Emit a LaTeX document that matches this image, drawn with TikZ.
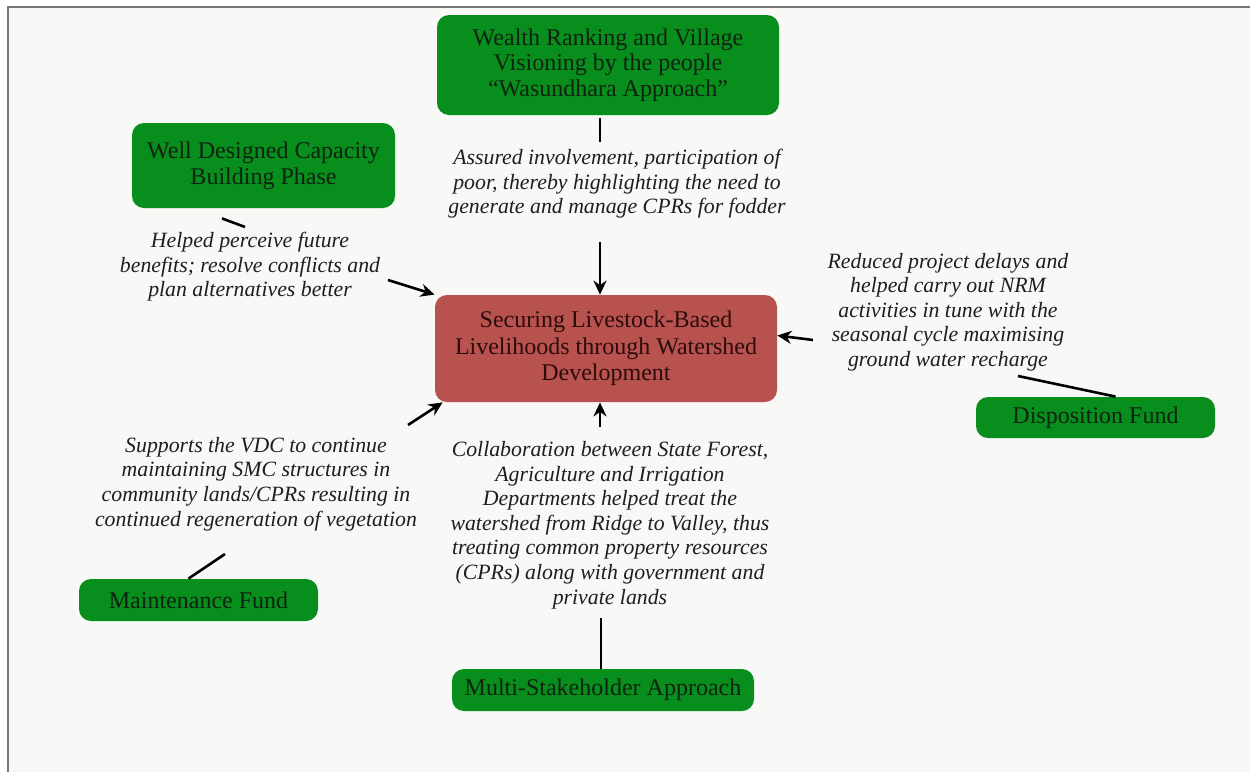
\documentclass[tikz,border=0pt]{standalone}
\usepackage{fontspec}
\setmainfont{Liberation Serif}
\usetikzlibrary{arrows.meta}
\definecolor{gfill}{RGB}{8,142,28}
\definecolor{rfill}{RGB}{183,82,78}
\definecolor{bgc}{RGB}{248,248,246}
\definecolor{gtext}{RGB}{16,34,16}
\definecolor{rtext}{RGB}{44,12,12}
\definecolor{framec}{RGB}{120,120,120}
\definecolor{ltext}{RGB}{30,30,30}
\tikzset{
  gbox/.style={fill=gfill, rounded corners=6pt, text=gtext, align=center, inner sep=0pt,
    font=\fontsize{12}{12.8}\selectfont},
  rbox/.style={fill=rfill, rounded corners=6pt, text=rtext, align=center, inner sep=0pt,
    font=\fontsize{12}{13.2}\selectfont},
  lbl/.style={align=center, text=ltext, inner sep=0pt,
    font=\itshape\fontsize{10.9}{12.3}\selectfont},
  conn/.style={line width=1.3pt, black},
  arr/.style={conn, -{Stealth[length=7pt,width=6.5pt]}}
}
\begin{document}
\begin{tikzpicture}[x=0.5pt,y=-0.5pt]
\useasboundingbox (0,0) rectangle (1250,772);
\fill[white] (0,0) rectangle (1250,772);
\fill[bgc] (8,7) rectangle (1250,772);
\draw[framec, line width=1pt] (8,772) -- (8,7) -- (1250,7);

% boxes
\node[gbox, minimum width=171pt, minimum height=50pt] (top) at (608,65)
  {Wealth Ranking and Village\\Visioning by the people\\``Wasundhara Approach''};
\node[gbox, minimum width=131.5pt, minimum height=42.5pt] (well) at (263.5,165.5)
  {Well Designed Capacity\\Building Phase};
\node[rbox, minimum width=171pt, minimum height=53.5pt] (ctr) at (606,348.5)
  {Securing Livestock-Based\\Livelihoods through Watershed\\Development};
\node[gbox, minimum width=119.5pt, minimum height=20.5pt] (disp) at (1095.5,417.5)
  {Disposition Fund};
\node[gbox, minimum width=119.5pt, minimum height=21pt] (maint) at (198.5,600)
  {Maintenance Fund};
\node[gbox, minimum width=151pt, minimum height=21pt] (multi) at (603,690)
  {Multi-Stakeholder Approach};

% labels
\node[lbl] (lA) at (617,184)
  {Assured involvement, participation of\\poor, thereby highlighting the need to\\generate and manage CPRs for fodder};
\node[lbl] (lW) at (250,267)
  {Helped perceive future\\benefits; resolve conflicts and\\plan alternatives better};
\node[lbl] (lR) at (948,312)
  {Reduced project delays and\\helped carry out NRM\\activities in tune with the\\seasonal cycle maximising\\ground water recharge};
\node[lbl] (lM) at (256,484)
  {Supports the VDC to continue\\maintaining SMC structures in\\community lands/CPRs resulting in\\continued regeneration of vegetation};
\node[lbl] (lC) at (610,525)
  {Collaboration between State Forest,\\Agriculture and Irrigation\\Departments helped treat the\\watershed from Ridge to Valley, thus\\treating common property resources\\(CPRs) along with government and\\private lands};

% connector end points near labels
\coordinate (tA) at (600,142);
\coordinate (aA) at (600,242);
\coordinate (tW) at (245,227);
\coordinate (aW) at (388,280);
\coordinate (aR) at (813,340);
\coordinate (tR) at (1018,376);
\coordinate (aM) at (408,425);
\coordinate (tM) at (225,554);
\coordinate (aC) at (600,427);
\coordinate (tC) at (601,618);

% connectors
\draw[conn] ([yshift=-1.5pt]tA |- top.south) -- (tA);
\draw[arr] (aA) -- (aA |- ctr.north);
\draw[conn] ([xshift=-20.75pt,yshift=-5pt]well.south) -- (tW);
\draw[arr] (aW) -- (ctr.north west);
\draw[arr] (aR) -- ([yshift=6.5pt]ctr.east);
\draw[conn] ([xshift=10pt]disp.north) -- (tR);
\draw[arr] (aM) -- ([xshift=4pt]ctr.south west);
\draw[conn] ([xshift=-5pt]maint.north) -- (tM);
\draw[arr] (aC) -- (aC |- ctr.south);
\draw[conn] ([xshift=-1pt]multi.north) -- (tC);
\end{tikzpicture}
\end{document}
